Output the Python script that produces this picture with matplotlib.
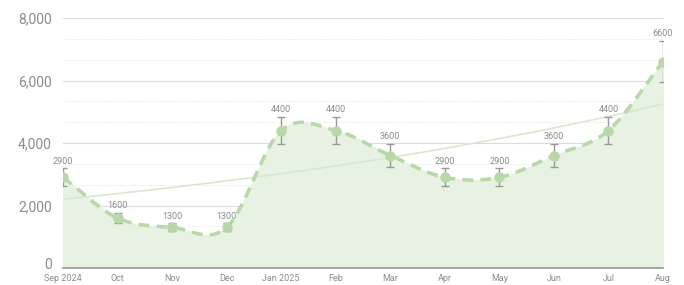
import numpy as np
import matplotlib
matplotlib.use("Agg")
import matplotlib.pyplot as plt
from matplotlib.ticker import MultipleLocator, FuncFormatter

plt.rcParams["font.family"] = ["Roboto", "DejaVu Sans"]

# data
months = ["Sep 2024", "Oct", "Nov", "Dec", "Jan 2025", "Feb", "Mar",
          "Apr", "May", "Jun", "Jul", "Aug"]
values = [2900, 1600, 1300, 1300, 4400, 4400, 3600, 2900, 2900, 3600, 4400, 6600]
err_frac = 0.10          # error bars ~ +/-10%
trend_start = 2200       # trend line value at first month
trend_end = 5250         # trend line value at last month

line_col = "#b7d9a8"
fill_col = "#e8f2e3"
grey = "#8c8c8c"


def catmull_rom(y, steps=40):
    # cardinal spline through the points, one-sided tangents at the ends
    n = len(y)
    m = np.zeros(n)
    m[0] = y[1] - y[0]
    m[-1] = y[-1] - y[-2]
    m[1:-1] = (y[2:] - y[:-2]) / 2
    xs, ys = [], []
    t = np.linspace(0, 1, steps, endpoint=False)
    h00 = 2 * t**3 - 3 * t**2 + 1
    h10 = t**3 - 2 * t**2 + t
    h01 = -2 * t**3 + 3 * t**2
    h11 = t**3 - t**2
    for i in range(n - 1):
        xs.append(i + t)
        ys.append(h00 * y[i] + h10 * m[i] + h01 * y[i + 1] + h11 * m[i + 1])
    xs.append([n - 1])
    ys.append([y[-1]])
    return np.concatenate(xs), np.concatenate(ys)


x = np.arange(len(values), dtype=float)
y = np.array(values, dtype=float)
xs, ys = catmull_rom(y)

fig = plt.figure(figsize=(6.84, 2.85), dpi=100)
ax = fig.add_axes([63 / 684, 17 / 285, 600 / 684, 250 / 285])

ax.fill_between(xs, 0, ys, color=fill_col, zorder=1)
ax.plot(xs, ys, color=line_col, lw=2.6, ls=(0, (3, 2)), zorder=3)

# exponential trend
b = np.log(trend_end / trend_start) / x[-1]
ax.plot(xs, trend_start * np.exp(b * xs), color="#d9e8cf", lw=1.2, zorder=2)

err = y * err_frac
ax.errorbar(x, y, yerr=err, fmt="none", ecolor="#999999", elinewidth=1,
            capsize=3, capthick=1, zorder=4)
ax.plot(x, y, "o", color=line_col, ms=6.5, zorder=5)

for xi, yi, ei in zip(x, y, err):
    ax.annotate(f"{int(yi)}", (xi, yi + ei), xytext=(0, 2), textcoords="offset points",
                ha="center", va="bottom", fontsize=6.5, color=grey, zorder=6)

ax.set_xlim(0, x[-1])
ax.set_ylim(0, 8000)
ax.yaxis.set_major_locator(MultipleLocator(2000))
ax.yaxis.set_minor_locator(MultipleLocator(2000 / 3))
# the "0" label is placed by hand below so it clears "Sep 2024"
ax.yaxis.set_major_formatter(FuncFormatter(lambda v, p: f"{int(v):,}" if v > 0 else ""))
ax.annotate("0", (0, 0), xycoords=("axes fraction", "data"), xytext=(-8, 2.5),
            textcoords="offset points", ha="right", va="center",
            fontsize=10, color=grey, annotation_clip=False)
ax.set_xticks(x)
ax.set_xticklabels(months)

ax.grid(axis="y", which="major", color="#dcdcdc", lw=0.8, zorder=0)
ax.grid(axis="y", which="minor", color="#eeeeee", lw=0.7, ls=(0, (2, 1)), zorder=0)
ax.set_axisbelow(True)

for s in ["top", "right", "left"]:
    ax.spines[s].set_visible(False)
ax.spines["bottom"].set_color("#999999")
ax.spines["bottom"].set_linewidth(1.2)

ax.tick_params(axis="y", which="both", length=0, labelsize=10, labelcolor=grey, pad=8)
ax.tick_params(axis="x", length=0, labelsize=6.5, labelcolor=grey, pad=4.5)

fig.savefig("out.png", dpi=100)
